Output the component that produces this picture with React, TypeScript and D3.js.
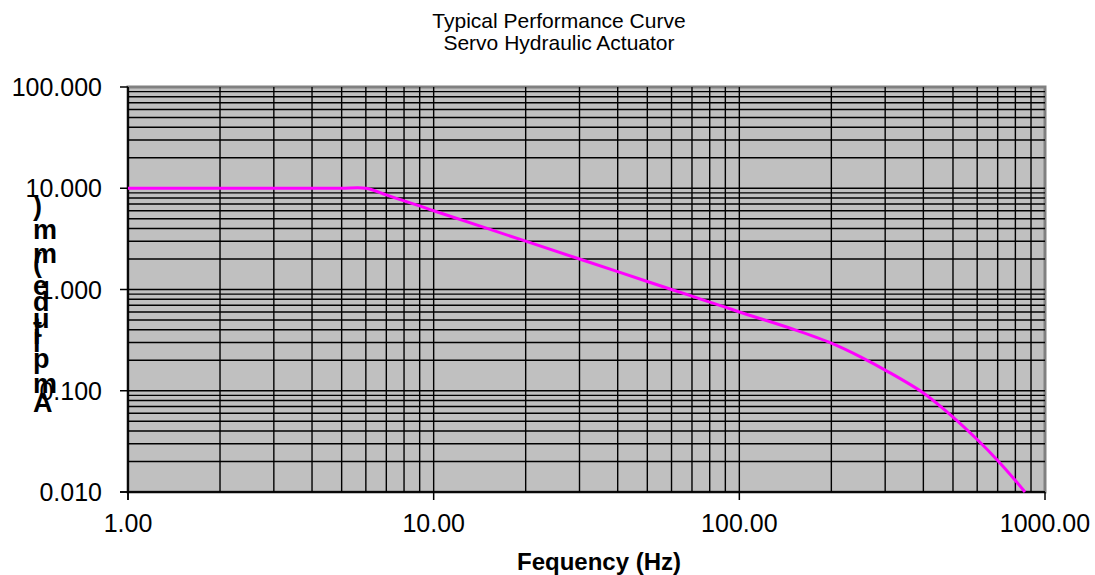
import * as d3 from "d3";

// chart values
const frequencies = [1, 2, 3, 4, 5, 6, 7, 8, 9, 10, 20, 30, 40, 50, 60, 70, 80, 90, 100, 150, 200, 250, 300, 400, 500, 600, 700, 800, 860];
const amplitudes = [10, 10, 10, 10, 10, 10, 8.6, 7.5, 6.7, 6.0, 3.0, 2.0, 1.5, 1.2, 1.0, 0.86, 0.75, 0.67, 0.6, 0.405, 0.295, 0.215, 0.16, 0.095, 0.055, 0.033, 0.0205, 0.013, 0.01];
const xTicks = [1, 10, 100, 1000];
const yTicks = [0.01, 0.1, 1, 10, 100];
const titleLines = ["Typical Performance Curve", "Servo Hydraulic Actuator"];
const xTitle = "Fequency (Hz)";
const yTitle = "Amplitude (mm)";

const W = 1095;
const H = 575;
const plot = { left: 128, right: 1045, top: 87, bottom: 492 };
const font = "'Liberation Sans', Arial, Helvetica, sans-serif";

const App = () => {
  const x = d3.scaleLog().domain([1, 1000]).range([plot.left, plot.right]);
  const y = d3.scaleLog().domain([0.01, 100]).range([plot.bottom, plot.top]);

  // every 1..9 multiple inside each decade
  const minorX: number[] = [];
  for (let d = 1; d < 1000; d *= 10) for (let k = 1; k < 10; k++) minorX.push(d * k);
  const minorY: number[] = [];
  for (let d = 0.01; d < 99; d *= 10) for (let k = 1; k < 10; k++) minorY.push(+(d * k).toPrecision(3));

  const data = frequencies.map((f, i) => ({ f, a: amplitudes[i] }));
  const line = d3
    .line<{ f: number; a: number }>()
    .x((d) => x(d.f))
    .y((d) => y(d.a))
    .curve(d3.curveCatmullRom.alpha(0.5));

  return (
    <div style={{ position: "absolute", left: 0, top: 0 }}>
      <svg width={W} height={H} style={{ display: "block", fontFamily: font }}>
        <rect width={W} height={H} fill="#ffffff" />

        {titleLines.map((t, i) => (
          <text key={t} x={559} y={28 + i * 22} textAnchor="middle" fontSize={21} fill="#000">
            {t}
          </text>
        ))}

        {/* plot area */}
        <rect
          x={plot.left}
          y={plot.top}
          width={plot.right - plot.left}
          height={plot.bottom - plot.top}
          fill="#c0c0c0"
          stroke="#808080"
          strokeWidth={3}
        />

        {/* gridlines */}
        <g stroke="#000" strokeWidth={1.4}>
          {minorX.map((v) => (
            <line key={"x" + v} x1={x(v)} x2={x(v)} y1={plot.top} y2={plot.bottom} />
          ))}
          {minorY.map((v) => (
            <line key={"y" + v} x1={plot.left} x2={plot.right} y1={y(v)} y2={y(v)} />
          ))}
        </g>

        {/* axes */}
        <g stroke="#000" strokeWidth={1.5}>
          <line x1={plot.left} x2={plot.left} y1={plot.top} y2={plot.bottom + 8} />
          <line x1={plot.left - 8} x2={plot.right} y1={plot.bottom} y2={plot.bottom} />
          {xTicks.map((v) => (
            <line key={"tx" + v} x1={x(v)} x2={x(v)} y1={plot.bottom} y2={plot.bottom + 8} />
          ))}
          {yTicks.map((v) => (
            <line key={"ty" + v} x1={plot.left - 8} x2={plot.left} y1={y(v)} y2={y(v)} />
          ))}
        </g>

        <path d={line(data) ?? ""} fill="none" stroke="#ff00ff" strokeWidth={3} />

        {/* tick labels */}
        {xTicks.map((v) => (
          <text key={"lx" + v} x={x(v)} y={plot.bottom + 40} textAnchor="middle" fontSize={25} fill="#000">
            {v.toFixed(2)}
          </text>
        ))}
        {yTicks.map((v) => (
          <text key={"ly" + v} x={plot.left - 26} y={y(v) + 9} textAnchor="end" fontSize={25} fill="#000">
            {v.toFixed(3)}
          </text>
        ))}

        {/* axis titles */}
        <text x={599} y={570} textAnchor="middle" fontSize={24} fontWeight="bold" fill="#000">
          {xTitle}
        </text>
        <text
          transform="translate(33,412) rotate(-90)"
          rotate="90"
          fontSize={27}
          fontWeight="bold"
          fill="#000"
        >
          {yTitle}
        </text>
      </svg>
    </div>
  );
};

export default App;
